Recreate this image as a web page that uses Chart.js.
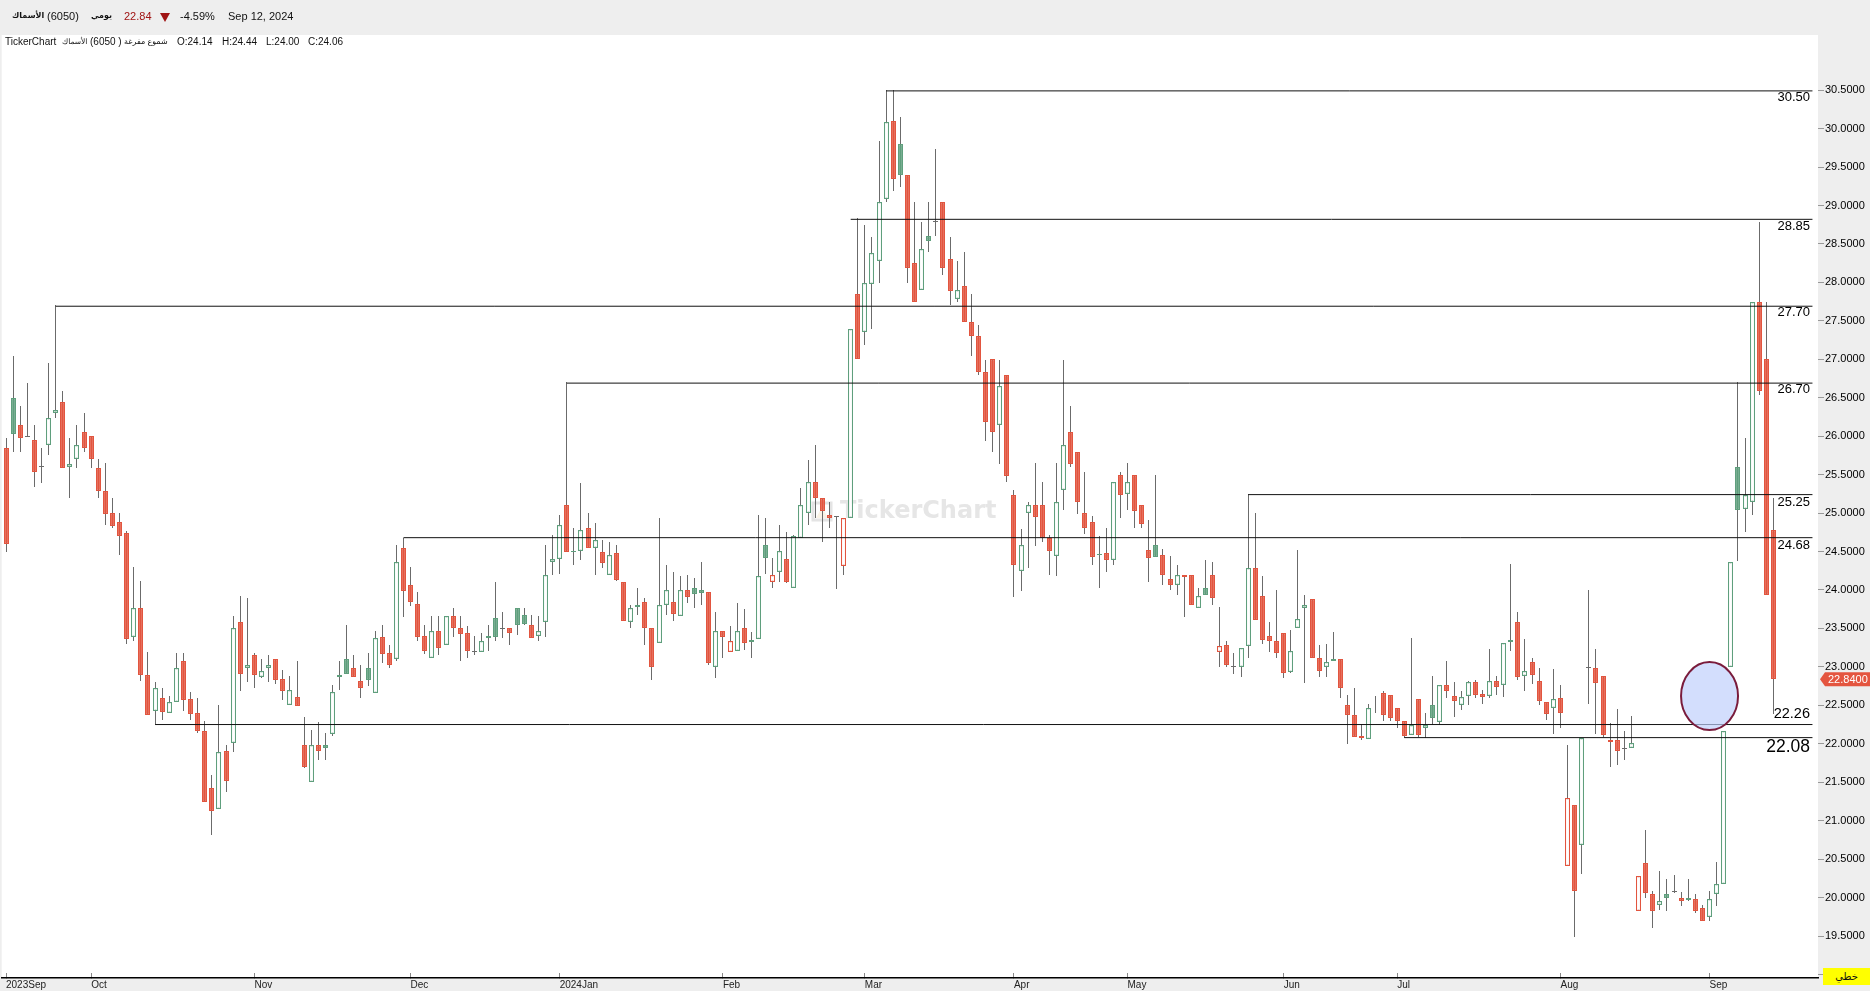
<!DOCTYPE html>
<html>
<head>
<meta charset="utf-8">
<title>TickerChart 6050</title>
<script src="https://cdn.jsdelivr.net/npm/chart.js@4"></script>
<style>
  html, body { margin: 0; padding: 0; width: 1870px; height: 991px; overflow: hidden; background: #eeeeee; }
  body { position: relative; font-family: "Liberation Sans", "DejaVu Sans", sans-serif; color: #111; }
  canvas { position: absolute; left: 0; top: 0; }
  .t { position: absolute; white-space: nowrap; line-height: 14px; }
  .h { top: 9px; font-size: 11px; }
  .s { top: 35px; font-size: 10px; }
  #tri { position: absolute; left: 160px; top: 13px; width: 0; height: 0;
         border-left: 5.5px solid transparent; border-right: 5.5px solid transparent; border-top: 9px solid #a01414; }
  #mode { position: absolute; left: 1823px; top: 968px; width: 47px; height: 17px; background: #ffff00;
          font-size: 10px; line-height: 17px; text-align: center; }
</style>
</head>
<body>
<canvas id="chart" width="1870" height="991"></canvas>
<div class="t h" style="left:12px;font-weight:bold;font-size:8px">الأسماك</div>
<div class="t h" style="left:47px">(6050)</div>
<div class="t h" style="left:91px;font-weight:bold;font-size:8px">يومي</div>
<div class="t h" style="left:124px;color:#a01414">22.84</div>
<div id="tri"></div>
<div class="t h" style="left:180px">-4.59%</div>
<div class="t h" style="left:228px">Sep 12, 2024</div>
<div class="t s" style="left:5px">TickerChart</div>
<div class="t s" style="left:62px;font-size:7.5px">الأسماك</div>
<div class="t s" style="left:90px">(6050 )</div>
<div class="t s" style="left:124px;font-size:8px">شموع مفرغة</div>
<div class="t s" style="left:177px">O:24.14</div>
<div class="t s" style="left:222px">H:24.44</div>
<div class="t s" style="left:266px">L:24.00</div>
<div class="t s" style="left:308px">C:24.06</div>
<div id="mode">خطي</div>
<script>
// Daily candles (one entry per trading day)
const opens = [
  25.84,26.49,26.14,25.99,25.95,25.60,25.89,26.30,26.44,25.60,25.70,26.05,26.00,25.59,25.29,25.00,24.89,24.74,23.39,23.76,
  22.90,22.43,22.60,22.40,22.54,23.07,22.58,22.40,22.16,21.43,21.15,21.90,22.01,23.59,22.99,23.16,22.87,22.99,23.10,22.84,
  22.51,22.61,21.99,21.50,21.99,21.99,22.13,22.87,23.10,22.99,22.81,22.99,22.66,23.39,23.18,23.10,24.55,24.07,23.82,23.40,
  23.11,23.47,23.28,23.66,23.50,23.44,23.20,23.19,23.40,23.63,23.50,23.51,23.77,23.68,23.55,23.40,23.58,24.37,24.40,25.10,
  24.49,24.51,24.80,24.55,24.50,24.19,24.48,24.10,23.59,23.78,23.84,23.50,23.31,23.81,23.84,23.66,24.00,24.03,24.00,23.98,
  23.00,23.47,23.19,23.20,23.50,23.32,23.36,24.59,24.10,24.23,24.40,24.03,24.68,25.00,25.40,25.20,24.97,24.96,24.31,24.93,
  27.85,27.35,27.98,28.28,29.09,30.10,29.80,29.39,28.25,27.90,28.60,28.79,29.04,28.30,27.79,27.95,27.49,27.30,26.84,27.00,
  26.15,26.79,25.24,24.25,25.00,25.10,25.10,24.68,24.44,25.30,26.05,25.79,25.00,24.89,24.45,24.48,24.39,25.49,25.25,25.49,
  25.10,24.52,24.59,24.45,24.14,24.06,24.20,24.20,23.77,24.02,24.20,23.19,23.29,23.00,23.00,23.27,24.28,23.92,23.40,23.33,
  23.44,22.93,23.51,23.77,23.88,23.12,23.00,23.10,23.10,22.50,22.38,22.10,22.06,22.40,22.66,22.64,22.46,22.29,22.12,22.58,
  22.20,22.50,22.28,22.77,22.62,22.51,22.62,22.80,22.65,22.62,22.81,22.76,23.32,23.59,22.88,23.06,22.81,22.54,22.46,22.60,
  20.41,21.20,20.68,22.99,22.99,22.88,22.02,22.05,21.94,21.94,19.82,20.45,20.05,19.90,20.04,20.08,20.00,20.00,19.98,19.86,
  19.75,20.04,20.17,23.00,25.60,25.05,25.14,27.74,27.00,24.78
];
const highs = [
  25.98,27.04,26.39,26.69,26.14,25.85,26.95,27.70,26.59,25.98,26.14,26.30,26.00,25.70,25.65,25.19,25.00,24.77,24.30,24.12,
  23.19,22.80,22.73,22.62,23.18,23.18,22.67,22.59,22.29,21.59,22.51,21.99,23.66,23.92,23.89,23.18,23.10,23.15,23.10,22.96,
  22.88,23.07,22.35,22.18,22.28,22.14,22.77,23.07,23.55,23.15,23.02,23.18,23.47,23.54,23.29,24.59,24.68,24.30,23.97,23.54,
  23.66,23.66,23.66,23.77,23.66,23.53,23.40,23.44,23.54,24.10,23.72,23.51,23.77,23.77,23.67,23.66,24.59,24.71,24.97,26.70,
  24.80,25.39,25.00,24.87,24.65,24.63,24.59,24.10,23.80,24.03,23.89,23.50,24.93,24.33,24.23,24.18,24.19,24.15,24.37,23.98,
  23.71,23.47,23.53,23.83,23.75,23.45,24.98,24.93,24.41,24.84,24.75,24.71,25.33,25.69,25.89,25.20,25.14,24.96,24.93,27.39,
  28.84,28.74,28.59,29.84,30.50,30.50,30.15,29.39,29.04,28.79,29.04,29.74,29.04,28.59,28.28,28.39,27.85,27.44,26.99,27.00,
  26.99,26.79,25.30,24.79,25.15,25.65,25.40,24.72,25.65,26.99,26.39,25.79,25.54,24.96,24.70,24.80,25.40,25.54,25.65,25.49,
  25.10,24.91,25.50,24.53,24.44,24.32,24.20,24.20,24.03,24.39,24.37,23.78,23.33,23.18,23.25,25.25,25.00,24.18,23.59,24.00,
  23.44,23.48,24.52,23.93,23.88,23.28,23.30,23.45,23.10,22.63,22.73,22.26,22.52,22.62,22.68,22.64,22.46,22.29,23.37,22.58,
  22.40,22.88,22.77,23.07,22.80,22.69,22.81,22.83,22.70,23.23,22.88,23.31,24.34,23.71,23.36,23.11,22.99,22.54,22.97,22.77,
  21.99,21.20,22.08,24.00,23.23,22.88,22.27,22.45,22.17,22.36,20.28,20.88,20.09,20.35,20.24,20.29,20.07,20.24,20.04,19.90,
  20.09,20.46,22.17,24.37,26.70,25.98,27.74,28.79,27.74,25.19
];
const lows = [
  24.50,25.80,25.80,25.99,25.34,25.39,25.75,26.24,25.59,25.20,25.59,25.80,25.59,25.19,24.85,24.81,24.46,23.30,23.34,22.82,
  22.38,22.26,22.31,22.40,22.54,22.43,22.31,22.14,21.24,20.82,21.15,21.37,21.89,22.69,22.80,22.72,22.86,22.80,22.78,22.57,
  22.51,22.49,21.68,21.50,21.79,21.79,22.10,22.70,22.91,22.87,22.60,22.75,22.66,23.05,22.98,23.08,23.65,23.79,23.34,23.17,
  23.11,23.16,23.28,23.39,23.08,23.12,23.16,23.19,23.21,23.34,23.37,23.29,23.41,23.54,23.37,23.34,23.39,24.20,24.21,24.50,
  24.32,24.39,24.54,24.20,24.28,24.19,24.12,23.60,23.51,23.68,23.29,22.83,23.31,23.68,23.60,23.66,23.83,23.76,23.81,23.03,
  22.86,23.12,23.19,23.20,23.22,23.12,23.36,24.21,24.03,24.10,24.09,24.02,24.68,24.84,24.93,24.62,24.80,24.01,24.19,24.93,
  27.00,27.19,27.39,27.99,29.05,29.19,29.24,27.99,27.75,27.90,28.40,28.60,28.10,27.70,27.75,27.49,27.04,26.79,25.94,25.80,
  25.64,25.40,23.91,23.99,24.28,24.57,24.62,24.20,24.18,25.04,25.60,24.99,24.73,24.32,24.02,24.24,24.32,24.93,25.04,24.80,
  24.80,24.10,24.43,24.07,24.00,23.94,23.65,23.80,23.76,23.93,23.80,23.00,23.00,22.91,22.87,23.12,23.61,23.30,23.19,23.12,
  22.86,22.92,23.51,22.79,23.12,22.87,22.87,23.07,22.60,22.00,22.09,22.05,22.06,22.40,22.30,22.30,22.20,22.08,22.12,22.09,
  22.08,22.24,22.24,22.60,22.35,22.44,22.50,22.60,22.52,22.60,22.63,22.61,23.21,22.83,22.69,22.78,22.50,22.31,22.13,22.20,
  20.41,19.49,20.30,22.52,22.13,22.09,21.70,21.72,21.79,21.94,19.82,20.00,19.60,19.84,19.82,20.06,19.89,19.95,19.80,19.70,
  19.70,19.89,20.17,23.00,24.38,24.75,24.98,26.54,23.94,22.39
];
const closes = [
  24.60,26.03,25.98,25.99,25.54,25.60,26.24,26.34,25.59,25.64,25.89,25.85,25.70,25.29,24.99,24.83,24.70,23.36,23.76,22.90,
  22.38,22.73,22.41,22.54,22.99,22.57,22.39,22.16,21.24,21.13,21.89,21.52,23.50,22.91,23.02,22.90,22.95,23.03,22.83,22.69,
  22.70,22.49,21.70,21.99,21.91,21.95,22.67,22.90,22.91,22.87,22.73,22.83,23.37,23.17,23.03,24.36,23.99,23.85,23.39,23.20,
  23.47,23.25,23.66,23.50,23.43,23.20,23.20,23.33,23.37,23.39,23.50,23.44,23.54,23.56,23.37,23.47,24.20,24.40,24.84,24.50,
  24.51,24.78,24.54,24.65,24.35,24.45,24.13,23.60,23.77,23.80,23.50,23.00,23.80,24.00,23.69,24.00,23.91,23.95,23.96,23.05,
  23.47,23.39,23.33,23.46,23.31,23.35,24.18,24.41,24.20,24.51,24.11,24.70,25.10,25.40,25.20,25.03,24.94,24.96,24.93,27.39,
  27.00,27.99,28.38,29.04,30.09,29.34,29.39,28.19,27.75,28.44,28.54,28.79,28.19,27.89,27.90,27.49,27.30,26.84,26.19,26.05,
  26.65,25.48,24.32,24.59,25.10,24.95,24.68,24.51,25.15,25.89,25.64,25.14,24.81,24.43,24.47,24.39,25.40,25.24,25.40,25.03,
  24.86,24.42,24.43,24.19,24.06,24.20,24.17,23.80,23.92,23.93,23.90,23.27,23.03,23.00,23.24,24.28,23.61,23.35,23.33,23.18,
  22.92,23.20,23.62,23.80,23.12,22.94,23.06,23.07,22.72,22.38,22.09,22.07,22.47,22.40,22.37,22.34,22.30,22.10,22.24,22.12,
  22.24,22.34,22.76,22.69,22.55,22.61,22.80,22.64,22.61,22.81,22.74,23.31,23.35,22.87,22.94,22.90,22.55,22.39,22.58,22.40,
  21.30,20.08,22.08,22.99,22.79,22.12,22.05,21.90,21.94,22.01,20.28,20.06,19.83,19.96,19.99,20.08,19.96,19.97,19.83,19.70,
  19.98,20.18,22.17,24.37,25.04,25.23,27.74,26.59,23.94,22.84
];

// Month ticks on the time axis (index of the first trading day of each month)
const monthIndex = [0, 12, 35, 57, 78, 101, 121, 142, 158, 180, 196, 219, 240];
const monthLabels = ["2023Sep", "Oct", "Nov", "Dec", "2024Jan", "Feb", "Mar", "Apr", "May", "Jun", "Jul", "Aug", "Sep"];

// Price axis ticks
const priceTicks = [19, 19.5, 20, 20.5, 21, 21.5, 22, 22.5, 23, 23.5, 24, 24.5, 25, 25.5, 26, 26.5, 27, 27.5, 28, 28.5, 29, 29.5, 30, 30.5];

// Horizontal levels drawn by hand on the chart
const levelValues = [30.49, 28.82, 27.69, 26.69, 25.24, 24.68, 22.25, 22.08];
const levelStart = [124, 119, 7, 79, 175, 56, 21, 197];
const levelText = ["30.50", "28.85", "27.70", "26.70", "25.25", "24.68", "22.26", "22.08"];
const levelEnd = 254.5;

const lastPrice = 22.84;

const RED = "#e2553f";
const GREEN = "#5f9f7d";
const WICK = "#6b6b6b";
const N = closes.length;

// hollow candles: filled when close < open, red when close < previous close
function candleColor(i) {
  if (opens[i] === closes[i]) return WICK;
  if (i === 0) return closes[i] < opens[i] ? RED : GREEN;
  return closes[i] < closes[i - 1] ? RED : GREEN;
}
function candleFill(i) {
  if (opens[i] === closes[i]) return WICK;
  return closes[i] > opens[i] ? "#ffffff" : candleColor(i);
}

const wickData = [];
const bodyData = [];
for (let i = 0; i < N; i++) {
  wickData.push({ x: i, y: [lows[i], highs[i]] });
  let a = Math.min(opens[i], closes[i]);
  let b = Math.max(opens[i], closes[i]);
  if (a === b) { a -= 0.006; b += 0.006; }
  bodyData.push({ x: i, y: [a, b] });
}

const datasets = [
  {
    type: "bar", label: "wick", data: wickData, grouped: false, order: 3,
    barThickness: 1, backgroundColor: WICK, borderWidth: 0, inflateAmount: 0
  },
  {
    type: "bar", label: "body", data: bodyData, grouped: false, order: 2,
    barThickness: 5, inflateAmount: 0, borderSkipped: false, borderWidth: 1.2,
    backgroundColor: bodyData.map((d, i) => candleFill(i)),
    borderColor: bodyData.map((d, i) => candleColor(i))
  }
];
levelValues.forEach((v, k) => {
  datasets.push({
    type: "line", label: "level " + levelText[k], order: 1,
    data: [{ x: levelStart[k], y: v }, { x: levelEnd, y: v }],
    borderColor: "#111111", borderWidth: 1, pointRadius: 0, tension: 0
  });
});

const backdrop = {
  id: "backdrop",
  // keep candles on whole pixels so thin wicks and outlines stay crisp
  afterDatasetsUpdate(chart) {
    chart.getSortedVisibleDatasetMetas().forEach(meta => {
      if (meta.type !== "bar") return;
      meta.data.forEach(el => {
        el.x = Math.floor(el.x) + 0.5;
        el.y = Math.round(el.y);
        el.base = Math.round(el.base);
        el.height = el.base - el.y;
      });
    });
  },
  beforeDraw(chart) {
    const { ctx, chartArea: a } = chart;
    ctx.save();
    ctx.fillStyle = "#ffffff";
    ctx.fillRect(a.left, a.top, a.right - a.left, a.bottom - a.top);
    ctx.restore();
  },
  beforeDatasetsDraw(chart) {
    // watermark sits behind the candles
    const { ctx } = chart;
    ctx.save();
    ctx.strokeStyle = "#e4e4e4";
    ctx.lineWidth = 3;
    ctx.strokeRect(813, 503, 18, 17);
    ctx.fillStyle = "#faf3e6";
    ctx.beginPath();
    ctx.moveTo(816, 518); ctx.lineTo(822, 507); ctx.lineTo(828, 518); ctx.closePath();
    ctx.fill();
    ctx.fillStyle = "#e6e6e6";
    ctx.font = "bold 24px 'DejaVu Sans'";
    ctx.textBaseline = "middle";
    ctx.fillText("TickerChart", 840, 512);
    ctx.restore();
  },
  afterDraw(chart) {
    const { ctx, scales } = chart;
    const y = scales.y, x = scales.x;
    ctx.save();

    // level captions
    ctx.fillStyle = "#000000";
    ctx.textAlign = "right";
    ctx.textBaseline = "middle";
    const offsets = [6.5, 7.5, 6.5, 6.5, 7.5, 7.5, -10.5, 10];
    const sizes = [13, 13, 13, 13, 13, 13, 14.5, 17.5];
    levelText.forEach((t, k) => {
      ctx.font = sizes[k] + "px 'Liberation Sans'";
      ctx.fillText(t, 1810, y.getPixelForValue(levelValues[k]) + offsets[k]);
    });

    // circled area over the gap
    const cx = x.getPixelForValue(240), cy = y.getPixelForValue(22.62);
    ctx.beginPath();
    ctx.ellipse(cx, cy, 28.5, 34, 0, 0, Math.PI * 2);
    ctx.fillStyle = "rgba(190,207,252,0.68)";
    ctx.fill();
    ctx.lineWidth = 2;
    ctx.strokeStyle = "#7a1c3c";
    ctx.stroke();

    // last price tag
    const py = y.getPixelForValue(lastPrice);
    ctx.beginPath();
    ctx.moveTo(1820, py); ctx.lineTo(1825, py - 7); ctx.lineTo(1870, py - 7);
    ctx.lineTo(1870, py + 7); ctx.lineTo(1825, py + 7); ctx.closePath();
    ctx.fillStyle = "#e4553f";
    ctx.fill();
    ctx.fillStyle = "#ffffff";
    ctx.font = "11px 'Liberation Sans'";
    ctx.textAlign = "left";
    ctx.fillText(lastPrice.toFixed(4), 1828, py + 0.5);
    ctx.restore();
  }
};

new Chart(document.getElementById("chart").getContext("2d"), {
  type: "bar",
  data: { datasets },
  plugins: [backdrop],
  options: {
    responsive: false,
    animation: false,
    events: [],
    layout: { padding: { top: 35, left: 0, right: 0, bottom: 0 } },
    plugins: { legend: { display: false }, tooltip: { enabled: false } },
    scales: {
      x: {
        type: "linear",
        offset: false,
        min: -0.605,
        max: 255.28,
        afterBuildTicks(s) { s.ticks = monthIndex.map(v => ({ value: v })); },
        afterFit(s) { s.height = 13; },
        border: { color: "#000000", width: 1.5 },
        grid: { offset: false, drawOnChartArea: false, drawTicks: true, tickLength: -5, tickColor: "#888888" },
        ticks: {
          autoSkip: false, maxRotation: 0, align: "start", padding: 6, color: "#222222",
          font: { family: "'Liberation Sans'", size: 10 },
          callback: v => monthLabels[monthIndex.indexOf(v)]
        }
      },
      y: {
        type: "linear",
        position: "right",
        min: 18.954,
        max: 31.217,
        afterBuildTicks(s) { s.ticks = priceTicks.map(v => ({ value: v })); },
        afterFit(s) { s.width = 52; },
        border: { display: false },
        grid: { drawOnChartArea: false, drawTicks: true, tickLength: 6, tickColor: "#999999" },
        ticks: {
          autoSkip: false, padding: 1, color: "#000000",
          font: { family: "'Liberation Sans'", size: 11 },
          callback: v => v.toFixed(4)
        }
      }
    }
  }
});
</script>
</body>
</html>
